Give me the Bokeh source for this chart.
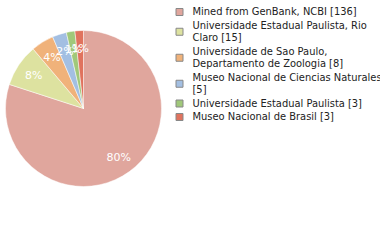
import math
from bokeh.plotting import figure
from bokeh.models import Range1d, ColumnDataSource
from bokeh.core.properties import value
from bokeh.embed import file_html
from bokeh.resources import INLINE

# ---- data ----
labels = [
    "Mined from GenBank, NCBI [136]",
    "Universidade Estadual Paulista, Rio\nClaro [15]",
    "Universidade de Sao Paulo,\nDepartamento de Zoologia [8]",
    "Museo Nacional de Ciencias Naturales\n[5]",
    "Universidade Estadual Paulista [3]",
    "Museo Nacional de Brasil [3]",
]
counts = [136, 15, 8, 5, 3, 3]
colors = ["#e0a69d", "#dde2a0", "#f0b27a", "#a3bfe2", "#a0c87a", "#e0735e"]

W, H = 380, 240
p = figure(width=W, height=H, output_backend="svg", toolbar_location=None,
           x_range=Range1d(0, W), y_range=Range1d(0, H), min_border=0,
           outline_line_color=None, background_fill_color="white",
           border_fill_color="white")
p.axis.visible = False
p.grid.visible = False

# ---- pie ----
cx, cy, r = 83, H - 108, 78
total = sum(counts)
starts, ends, cum = [], [], 0
for c in counts:
    starts.append(math.pi / 2 - 2 * math.pi * cum / total)
    cum += c
    ends.append(math.pi / 2 - 2 * math.pi * cum / total)
src = ColumnDataSource(dict(start=starts, end=ends, color=colors))
p.wedge(x=cx, y=cy, radius=r, start_angle="start", end_angle="end",
        direction="clock", fill_color="color", line_color="white",
        line_width=0.5, source=src)

lx, ly, ltxt = [], [], []
lr = 60
for s, e, c in zip(starts, ends, counts):
    m = (s + e) / 2
    lx.append(cx + lr * math.cos(m))
    ly.append(cy + lr * math.sin(m))
    ltxt.append("%d%%" % int(100 * c / total))
p.text(x=lx, y=ly, text=ltxt, text_color="white", text_align="center",
       text_baseline="middle", text_font=value("DejaVu Sans"),
       text_font_size="11px")

# ---- legend ----
pitch, gap, y0 = 12.5, 1.0, 11.0
tx, ty, tt, sx, sy, sc = [], [], [], [], [], []
y = y0
for lab, col in zip(labels, colors):
    lines = lab.split("\n")
    first = y
    for ln in lines:
        tx.append(192); ty.append(H - y); tt.append(ln)
        y += pitch
    last = y - pitch
    y += gap
    sx.append(179); sy.append(H - ((first + last) / 2 + 0.5)); sc.append(col)
p.rect(x=sx, y=sy, width=7, height=7, fill_color=sc, line_color="#888888",
       line_width=1)
p.text(x=tx, y=ty, text=tt, text_color="#222222", text_align="left",
       text_baseline="middle", text_font=value("DejaVu Sans Condensed"),
       text_font_size="11px")

open("out.html", "w").write(file_html(p, INLINE))
